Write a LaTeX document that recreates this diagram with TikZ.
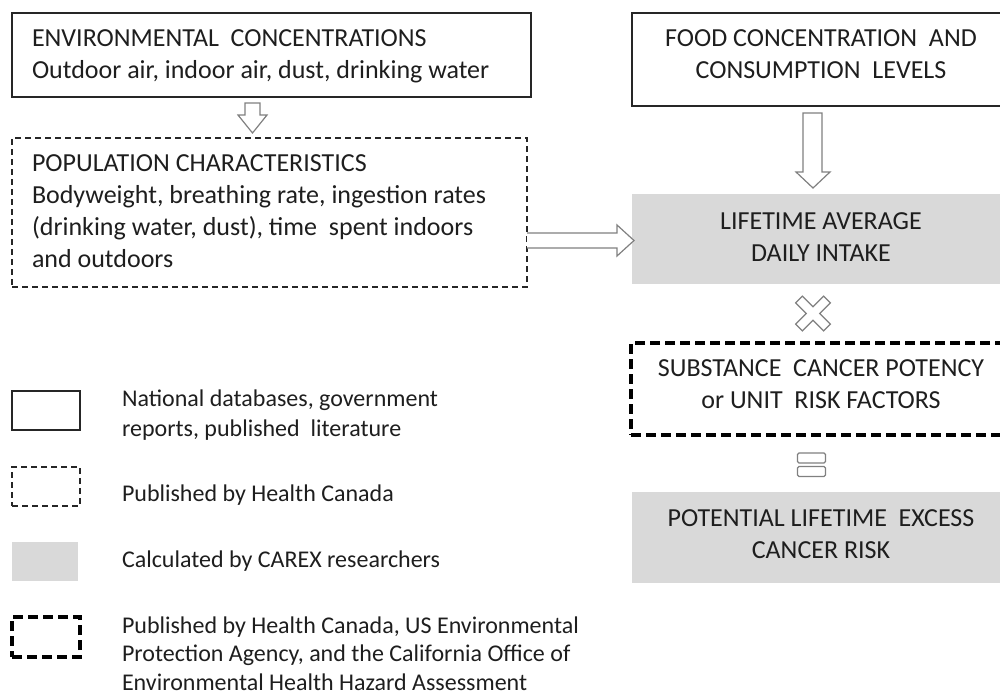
\documentclass[tikz,border=0pt]{standalone}
\usepackage{fontspec}
\setmainfont{Carlito}
\definecolor{bord}{HTML}{262626}
\definecolor{grayfill}{HTML}{D9D9D9}
\definecolor{arr}{HTML}{808080}
\definecolor{txt}{HTML}{1E1E1E}
\begin{document}
\begin{tikzpicture}[x=1pt,y=-1pt,
  every node/.style={inner sep=0pt, outer sep=0pt, text=txt},
  maintext/.style={font=\fontsize{26}{32}\selectfont},
  legtext/.style={font=\fontsize{24}{30}\selectfont, anchor=base west, align=left},
  solidbox/.style={draw=bord, line width=1.5pt, rectangle, anchor=north west},
  thindash/.style={draw=bord, line width=1.2pt, dash pattern=on 6pt off 4pt, rectangle, anchor=north west},
  thickdash/.style={draw=black, line width=3.4pt, dash pattern=on 10pt off 5pt, rectangle, anchor=north west},
  calcbox/.style={fill=grayfill, rectangle, anchor=north west},
  blockarrow/.style={draw=arr, line width=1.2pt, fill=white, line join=miter}]
\useasboundingbox (0,0) rectangle (1000,694);
\clip (0,0) rectangle (1000,694);

% main boxes
\node[solidbox, minimum width=519, minimum height=84] (env) at (12,13) {};
\node[thindash, minimum width=515, minimum height=149] (pop) at (12,138) {};
\node[solidbox, minimum width=380, minimum height=93] (food) at (632,13) {};
\node[calcbox, minimum width=380, minimum height=90] (intake) at (632,194) {};
\node[thickdash, minimum width=381, minimum height=92] (subst) at (631,343) {};
\node[calcbox, minimum width=380, minimum height=91] (pot) at (632,492) {};

% texts (anchor base = baseline of the last line)
\node[maintext, anchor=base west, align=left] (envt) at (32,78)
  {ENVIRONMENTAL\ \ CONCENTRATIONS\\Outdoor air, indoor air, dust, drinking water};
\node[maintext, anchor=base west, align=left] (popt) at (32,267)
  {POPULATION CHARACTERISTICS\\Bodyweight, breathing rate, ingestion rates\\(drinking water, dust), time\ \ spent indoors\\and outdoors};
\node[maintext, anchor=base, align=center] (foodt) at (821,78)
  {FOOD CONCENTRATION\ \ AND\\CONSUMPTION\ \ LEVELS};
\node[maintext, anchor=base, align=center] (intaket) at (821,261)
  {LIFETIME AVERAGE\\DAILY INTAKE};
\node[maintext, anchor=base, align=center] (substt) at (821,408)
  {SUBSTANCE\ \ CANCER POTENCY\\or UNIT\ \ RISK FACTORS};
\node[maintext, anchor=base, align=center] (pott) at (821,558)
  {POTENTIAL LIFETIME\ \ EXCESS\\CANCER RISK};

% block arrows
\draw[blockarrow] (245,103) -- (260,103) -- (260,115) -- (267,115) -- (252.5,133)
  -- (238,115) -- (245,115) -- cycle;
\draw[blockarrow] (803,113) -- (822,113) -- (822,172) -- (830,172) -- (813,188)
  -- (796,172) -- (803,172) -- cycle;
\draw[blockarrow] (pop.east |- 0,233) -- (617,233) -- (617,225) -- (634,240.5)
  -- (617,256) -- (617,248) -- (pop.east |- 0,248);

% multiplication sign
\begin{scope}[shift={(813,313.5)}, rotate=45]
  \draw[blockarrow] (-4.8,19.8) -- (4.8,19.8) -- (4.8,4.8) -- (19.8,4.8) -- (19.8,-4.8)
    -- (4.8,-4.8) -- (4.8,-19.8) -- (-4.8,-19.8) -- (-4.8,-4.8) -- (-19.8,-4.8)
    -- (-19.8,4.8) -- (-4.8,4.8) -- cycle;
\end{scope}

% equals sign
\node[draw=arr, line width=1.2pt, fill=white, rounded corners=1.5pt, minimum width=28, minimum height=10] (eq1) at (811.5,458) {};
\node[draw=arr, line width=1.2pt, fill=white, rounded corners=1.5pt, minimum width=28, minimum height=10] (eq2) at (811.5,471.5) {};

% legend
\node[solidbox, minimum width=68, minimum height=39] (l1) at (12,391) {};
\node[thindash, minimum width=68, minimum height=39] (l2) at (12,467) {};
\node[calcbox, minimum width=66, minimum height=39] (l3) at (12,542) {};
\node[thickdash, minimum width=68, minimum height=40] (l4) at (12,617) {};

\node[legtext] (l1t) at (122,436) {National databases, government\\reports, published\ \ literature};
\node[legtext] (l2t) at (122,501) {Published by Health Canada};
\node[legtext] (l3t) at (122,567) {Calculated by CAREX researchers};
\node[legtext, font=\fontsize{24}{28.5}\selectfont] (l4t) at (122,690) {Published by Health Canada, US Environmental\\Protection Agency, and the California Office of\\Environmental Health Hazard Assessment};
\end{tikzpicture}
\end{document}
